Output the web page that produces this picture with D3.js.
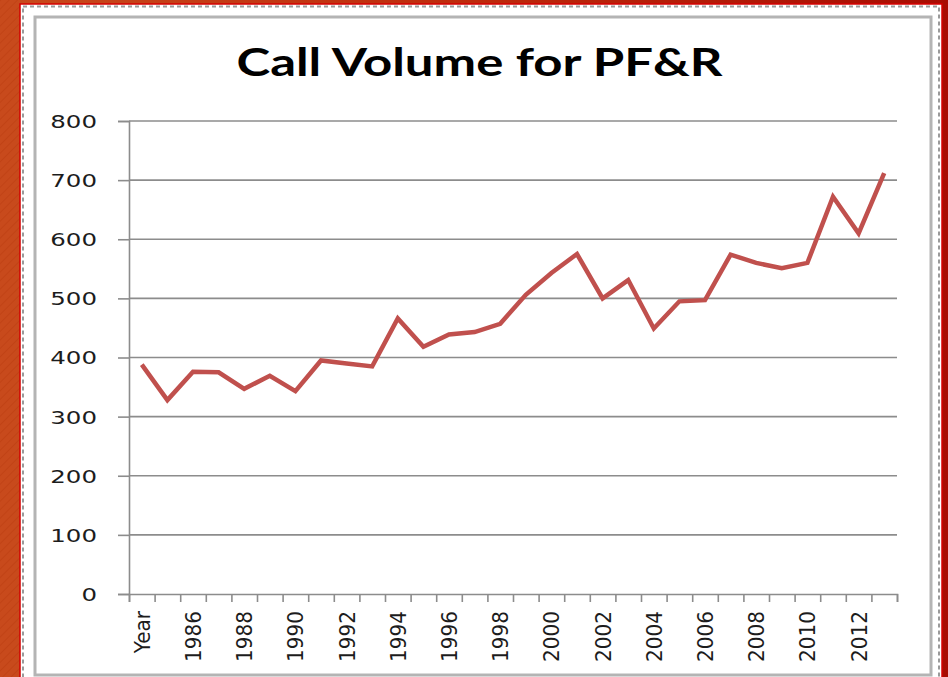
<!DOCTYPE html>
<html>
<head>
<meta charset="utf-8">
<script src="https://cdn.jsdelivr.net/npm/d3@7"></script>
<style>
  html, body { margin: 0; padding: 0; background: #b81a06; }
  svg { display: block; }
</style>
</head>
<body>
<svg id="chart" width="948" height="677"></svg>
<script>
// ---- data ----
const categories = ["Year","1985","1986","1987","1988","1989","1990","1991","1992","1993","1994","1995","1996","1997","1998","1999","2000","2001","2002","2003","2004","2005","2006","2007","2008","2009","2010","2011","2012","2013"];
const callVolume = [388,328,376,375,347,369,343,395,390,385,466,418,439,443,457,506,543,575,500,531,449,495,497,574,560,551,560,672,610,712];
const yTicks = [0,100,200,300,400,500,600,700,800];
const xLabelEvery = 2;
const titleText = "Call Volume for PF&R";

// ---- drawing ----
(function () {
const svg = d3.select("#chart");
const W = 948, H = 677;

const defs = svg.append("defs");
const grad = defs.append("linearGradient").attr("id","bg").attr("x1","0").attr("x2","1").attr("y1","0").attr("y2","0");
grad.append("stop").attr("offset","0").attr("stop-color","#c84a1c");
grad.append("stop").attr("offset","0.5").attr("stop-color","#be2a0c");
grad.append("stop").attr("offset","1").attr("stop-color","#a80c02");
const pat = defs.append("pattern").attr("id","hatch").attr("width",6).attr("height",6)
  .attr("patternUnits","userSpaceOnUse").attr("patternTransform","rotate(45)");
pat.append("rect").attr("width",6).attr("height",6).attr("fill","#c84a1c");
pat.append("line").attr("x1",0).attr("y1",0).attr("x2",0).attr("y2",6)
  .attr("stroke","#b8380e").attr("stroke-width",1.5).attr("opacity",0.6);

svg.append("rect").attr("width",W).attr("height",H).attr("fill","url(#bg)");
svg.append("rect").attr("width",20).attr("height",H).attr("fill","url(#hatch)");

// white slide area
svg.append("rect").attr("x",20).attr("y",4).attr("width",922).attr("height",690)
  .attr("fill","#ffffff").attr("stroke","#d40000").attr("stroke-width",1.5);
svg.append("rect").attr("x",23).attr("y",6.5).attr("width",916).attr("height",690)
  .attr("fill","none").attr("stroke","#9a9a9a").attr("stroke-width",2).attr("stroke-dasharray","4,3");

// chart frame
svg.append("rect").attr("x",35).attr("y",17).attr("width",896).attr("height",658)
  .attr("fill","#ffffff").attr("stroke","#b4b4b4").attr("stroke-width",3);

const pLeft = 129, pRight = 897, pTop = 121, pBottom = 594;

const x = d3.scaleBand().domain(categories).range([pLeft, pRight]).paddingInner(0).paddingOuter(0);
const xIdx = d3.scaleLinear().domain([0, categories.length]).range([pLeft, pRight]);
const y = d3.scaleLinear().domain([0, 800]).range([pBottom, pTop]);

// gridlines
svg.append("g").selectAll("line").data(yTicks.filter(d => d > 0)).join("line")
  .attr("x1", pLeft).attr("x2", pRight)
  .attr("y1", d => y(d)).attr("y2", d => y(d))
  .attr("stroke","#8c8c8c").attr("stroke-width",1.6);

// y axis
const yAxis = svg.append("g").attr("transform",`translate(${pLeft},0)`)
  .call(d3.axisLeft(y).tickValues(yTicks).tickSize(11).tickPadding(0));
yAxis.select(".domain").attr("stroke","#8c8c8c").attr("stroke-width",1.6);
yAxis.selectAll(".tick line").attr("stroke","#8c8c8c").attr("stroke-width",1.6);
yAxis.selectAll(".tick text")
  .attr("x",0).attr("dy","0.36em")
  .attr("transform","translate(-32,0) scale(1.36,1)")
  .attr("text-anchor","end")
  .attr("fill","#1c1c1c")
  .style("font-family","'DejaVu Sans'").style("font-size","18px");

// x axis tick marks (category boundaries)
const xTicks = svg.append("g").attr("transform",`translate(0,${pBottom})`)
  .call(d3.axisBottom(xIdx).tickValues(d3.range(categories.length + 1)).tickSize(8).tickFormat(""));
xTicks.select(".domain").attr("stroke","#8c8c8c").attr("stroke-width",1.6);
xTicks.selectAll(".tick line").attr("stroke","#8c8c8c").attr("stroke-width",1.6);

// x labels
const xLab = svg.append("g").attr("transform",`translate(0,${pBottom})`)
  .call(d3.axisBottom(x).tickValues(categories.filter((d,i) => i % xLabelEvery === 0)).tickSize(0));
xLab.select(".domain").remove();
xLab.selectAll(".tick text")
  .attr("x",0).attr("y",0).attr("dy","0.36em")
  .attr("transform","translate(0,17) rotate(-90) scale(1,1.1)")
  .attr("text-anchor","end")
  .attr("fill","#1c1c1c")
  .style("font-family","'DejaVu Sans'").style("font-size","20px");

// line
const line = d3.line()
  .x((d,i) => x(categories[i]) + x.bandwidth()/2)
  .y(d => y(d));
svg.append("path").datum(callVolume)
  .attr("d", line)
  .attr("fill","none").attr("stroke","#c0504d").attr("stroke-width",4.5)
  .attr("stroke-linejoin","miter");

// title
svg.append("text").attr("x",479.5).attr("y",76)
  .attr("text-anchor","middle")
  .attr("textLength",486).attr("lengthAdjust","spacingAndGlyphs")
  .attr("fill","#000")
  .style("font-family","Lato, 'Open Sans', sans-serif").style("font-size","39px").style("font-weight","bold")
  .text(titleText);
})();
</script>
</body>
</html>
